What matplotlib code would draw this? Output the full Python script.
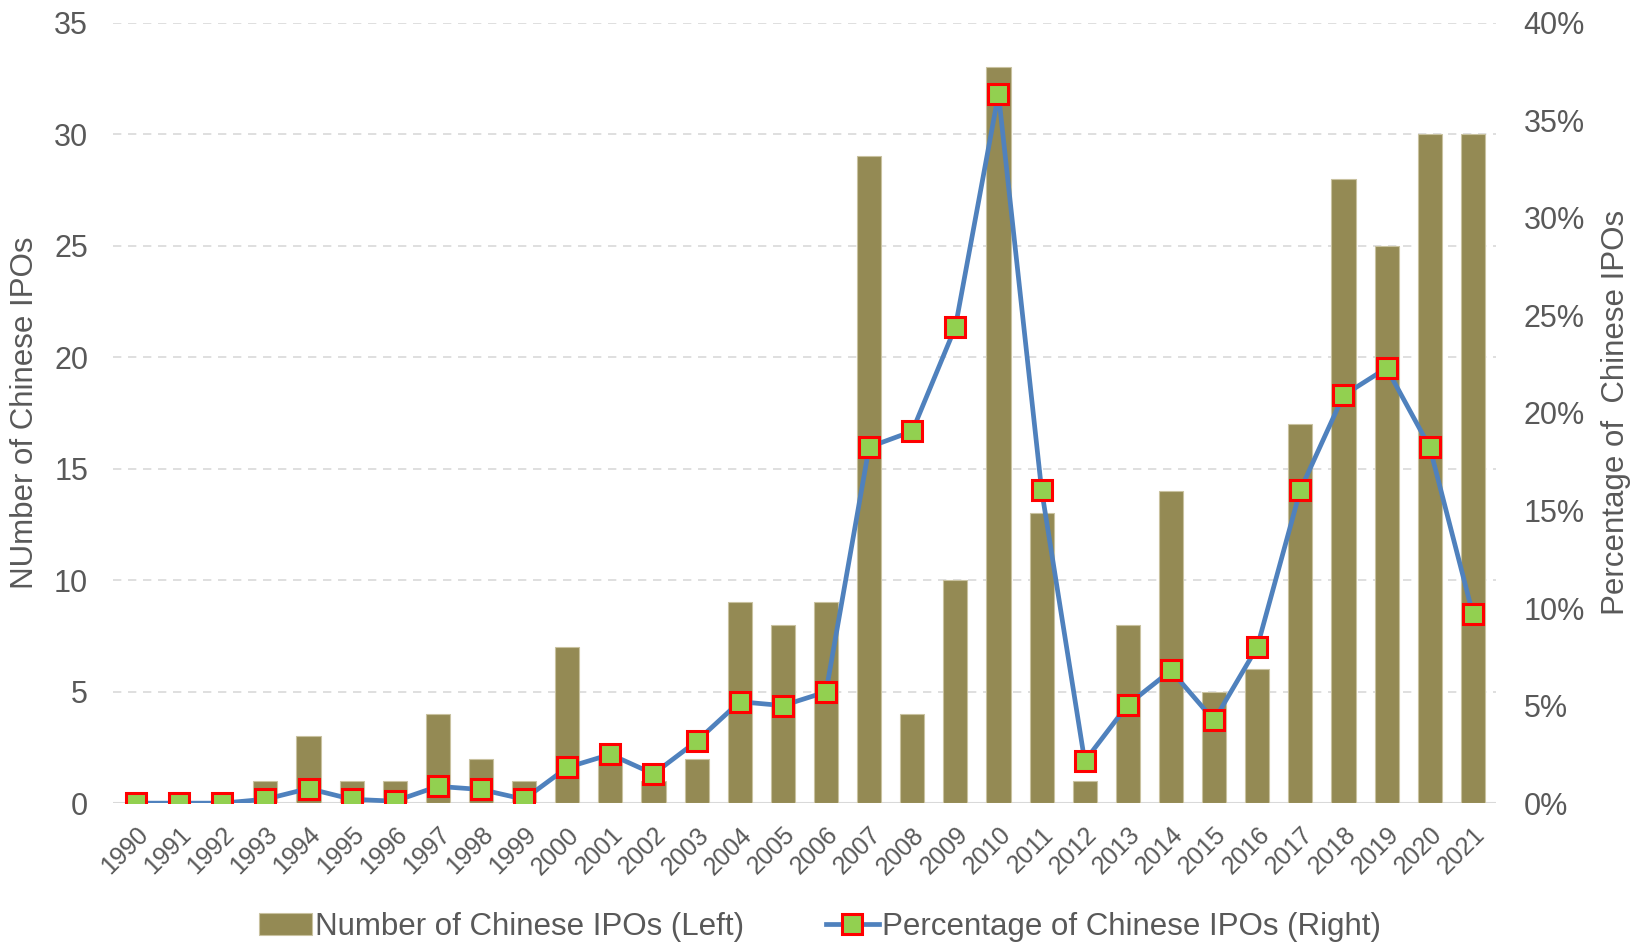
import numpy as np
import matplotlib.pyplot as plt
from matplotlib.ticker import FuncFormatter

plt.rcParams['font.family'] = ['Liberation Sans', 'DejaVu Sans']

years = [str(y) for y in range(1990, 2022)]
num_ipos = [0, 0, 0, 1, 3, 1, 1, 4, 2, 1, 7, 2, 1, 2, 9, 8, 9, 29, 4, 10,
            33, 13, 1, 8, 14, 5, 6, 17, 28, 25, 30, 30]
pct_ipos = [0.0, 0.0, 0.0, 0.2, 0.75, 0.2, 0.1, 0.86, 0.7, 0.2, 1.83, 2.5, 1.5, 3.17,
            5.2, 5.0, 5.7, 18.25, 19.06, 24.4, 36.35, 16.05, 2.15, 5.05, 6.8, 4.24,
            8.0, 16.05, 20.9, 22.3, 18.25, 9.7]

grey = '#595959'
x = np.arange(len(years))

fig = plt.figure(figsize=(16.4, 9.46), dpi=100)
ax = fig.add_axes([0.069, 0.151, 0.843, 0.825])
ax2 = ax.twinx()

bars = ax.bar(x, num_ipos, width=0.56, color='#948A54', edgecolor='#C9C2A0',
              linewidth=0.8, zorder=2, label='Number of Chinese IPOs (Left)')
line, = ax2.plot(x, pct_ipos, color='#4F81BD', linewidth=3.4, marker='s',
                 markersize=15, markerfacecolor='#92D050', markeredgecolor='#FF0000',
                 markeredgewidth=2.2, label='Percentage of Chinese IPOs (Right)', zorder=3)

ax.set_xlim(-0.53, 31.53)
ax.set_ylim(0, 35)
ax.set_yticks(range(0, 36, 5))
ax2.set_ylim(0, 40)
ax2.set_yticks(range(0, 41, 5))
ax2.yaxis.set_major_formatter(FuncFormatter(lambda v, p: f'{int(v)}%'))

ax.grid(axis='y', color='#D9D9D9', linestyle=(0, (5, 4)), linewidth=1.2, zorder=0)
ax.set_axisbelow(True)

for a in (ax, ax2):
    for s in ('top', 'left', 'right', 'bottom'):
        a.spines[s].set_visible(False)
ax.tick_params(axis='y', length=0, labelsize=22, labelcolor=grey, pad=18)
ax2.tick_params(axis='y', length=0, labelsize=22, labelcolor=grey, pad=20)
ax.axhline(0, color='#D9D9D9', linewidth=1.5, zorder=1)

ax.set_xticks(x)
ax.set_xticklabels(years, rotation=45, ha='right', rotation_mode='anchor')
ax.tick_params(axis='x', length=0, labelsize=18, labelcolor=grey, pad=14)

ax.set_ylabel('NUmber of Chinese IPOs', fontsize=22.5, color=grey, labelpad=10)
ax2.set_ylabel('Percentage of  Chinese IPOs', fontsize=22.5, color=grey, labelpad=12)

fig.legend(handles=[bars, line], loc='center', bbox_to_anchor=(0.5, 0.02), ncol=2,
           frameon=False, fontsize=22.5, labelcolor=grey, handlelength=1.7,
           handletextpad=0.1, columnspacing=2.6)

fig.savefig('out.png', dpi=100)
